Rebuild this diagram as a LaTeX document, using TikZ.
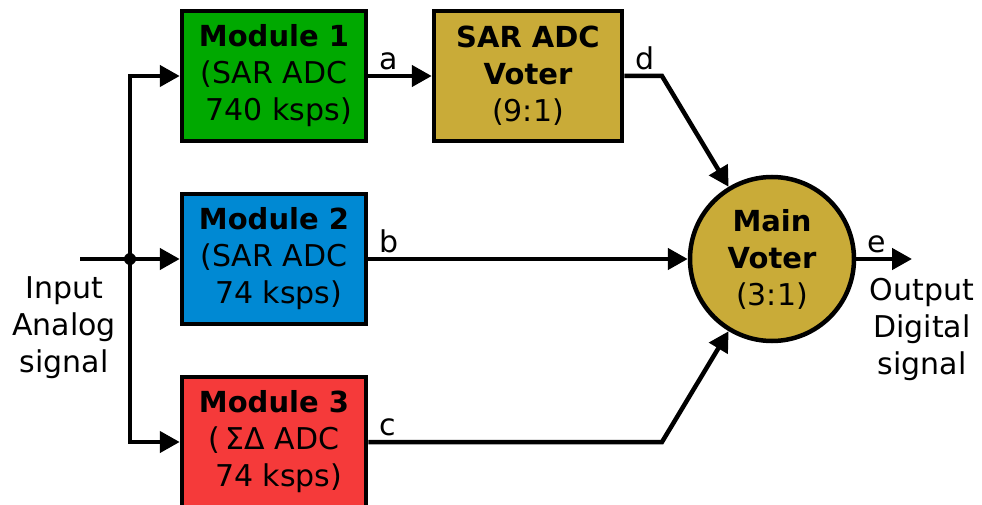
\documentclass[tikz,border=0pt]{standalone}
\usepackage{fontspec}
\setmainfont{DejaVu Sans}
\usepackage{xcolor}
\usepackage{tikz}
\usetikzlibrary{arrows.meta}

\definecolor{modgreen}{HTML}{00A900}
\definecolor{modblue}{HTML}{0089D3}
\definecolor{modred}{HTML}{F53A3A}
\definecolor{votergold}{HTML}{C9AB38}

\begin{document}
\begin{tikzpicture}[x=1pt, y=1pt, line width=4.5pt, >={Triangle[length=20pt,width=21pt]},
  txt/.style={font=\fontsize{30}{37}\selectfont, align=center, inner sep=0pt},
  modbox/.style={txt, draw, line width=4.5pt, minimum width=184pt, minimum height=130pt},
  wirelbl/.style={txt, anchor=south west, inner sep=4pt, xshift=5pt}]
\clip (0,0) rectangle (982,504);
\useasboundingbox (0,0) rectangle (982,504);
\node [modbox, fill=modgreen] (mod1) at (274,428) {\textbf{\fontsize{29}{37}\selectfont Module 1}\\(SAR ADC\\\ 740 ksps)};
\node [modbox, fill=modblue] (mod2) at (274,245) {\textbf{\fontsize{29}{37}\selectfont Module 2}\\(SAR ADC\\\ 74 ksps)};
\node [modbox, fill=modred] (mod3) at (274,62) {\textbf{\fontsize{29}{37}\selectfont Module 3}\\(\,ΣΔ ADC\ \\\ 74 ksps)};
\node [modbox, fill=votergold, minimum width=188pt] (sarvoter) at (528,428) {\textbf{\fontsize{29}{37}\selectfont SAR ADC}\\\textbf{\fontsize{29}{37}\selectfont Voter}\\(9:1)};
\node [txt, draw, circle, line width=4.5pt, fill=votergold, minimum size=164pt] (mainvoter) at (772,245) {\textbf{\fontsize{29}{37}\selectfont Main}\\\textbf{\fontsize{29}{37}\selectfont Voter}\\(3:1)};
\node [txt, anchor=north] (inlbl) at (64,230) {Input\\Analog\\signal};
\node [txt, anchor=north] (outlbl) at (922,228) {Output\\Digital\\signal};
\coordinate (in) at (80,245);
\coordinate (split) at (130,245);
\coordinate (dbend) at (662,428);
\coordinate (cbend) at (662,62);
\coordinate (out) at (912,245);
% input fan-out
\draw (in) -- (split);
\fill (split) circle (6pt);
\draw [->] (split) |- (mod1.west);
\draw [->] (split) -- (mod2.west);
\draw [->] (split) |- (mod3.west);
% module outputs
\draw [->] (mod1.east) -- node [wirelbl, pos=0] {a} (sarvoter.west);
\draw [->] (mod2.east) -- node [wirelbl, pos=0] {b} (mainvoter.west);
\draw [->] (mod3.east) -- node [wirelbl, pos=0] {c} (cbend) -- (mainvoter);
\draw [->] (sarvoter.east) -- node [wirelbl, pos=0] {d} (dbend) -- (mainvoter);
\draw [->] (mainvoter.east) -- node [wirelbl, pos=0] {e} (out);
\end{tikzpicture}
\end{document}
